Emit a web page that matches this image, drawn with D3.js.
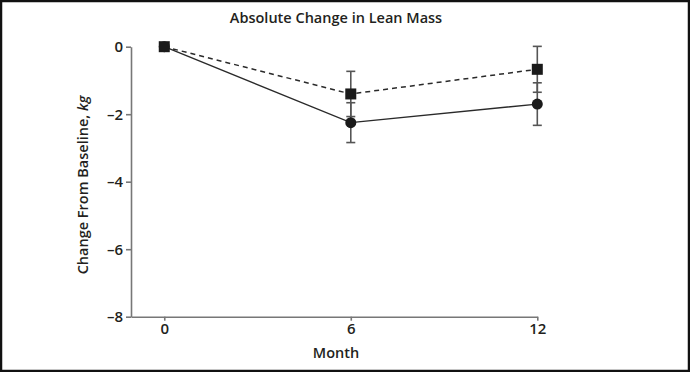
<!DOCTYPE html>
<html>
<head>
<meta charset="utf-8">
<script src="https://cdn.jsdelivr.net/npm/d3@7"></script>
<style>
  html, body { margin: 0; padding: 0; background: #fff; }
  svg { display: block; }
  text { font-family: "Open Sans", "Noto Sans", sans-serif; fill: #231f20; }
</style>
</head>
<body>
<svg id="chart" width="690" height="372"></svg>
<script>
// ---- data ----
const months = [0, 6, 12];
const squareMean = [0, -1.40, -0.67];
const squareErr  = [0, 0.67, 0.68];
const circleMean = [0, -2.25, -1.70];
const circleErr  = [0, 0.59, 0.63];
const yTicks = [0, -2, -4, -6, -8];
const xTicks = [0, 6, 12];
const titleText = "Absolute Change in Lean Mass";
const xLabel = "Month";
const yLabelMain = "Change From Baseline, ";
const yLabelUnit = "kg";

// ---- layout ----
const svg = d3.select("#chart");
const W = 690, H = 372;

svg.append("rect").attr("x", 1).attr("y", 1).attr("width", W - 2).attr("height", H - 2)
  .attr("fill", "#fff").attr("stroke", "#111").attr("stroke-width", 2.5);

const x = d3.scaleLinear().domain([-1.07, 12]).range([131, 537.3]);
const y = d3.scaleLinear().domain([-8, 0]).range([316.7, 46.7]);

const axisColor = "#777";

// y axis
const yAxis = svg.append("g").attr("transform", `translate(${x(-1.07)},0)`)
  .call(d3.axisLeft(y).tickValues(yTicks).tickSize(5).tickSizeOuter(0).tickPadding(3)
    .tickFormat(d => d === 0 ? "0" : "\u2013" + Math.abs(d)));
yAxis.attr("font-size", null);
yAxis.select(".domain").attr("stroke", axisColor).attr("stroke-width", 1.6);
yAxis.selectAll(".tick line").attr("stroke", axisColor).attr("stroke-width", 1.6);
yAxis.selectAll(".tick text").style("font-size", "15px").style("font-weight", 600)
  .attr("fill", "#231f20");

// x axis
const xAxis = svg.append("g").attr("transform", `translate(0,${y(-8)})`)
  .call(d3.axisBottom(x).tickValues(xTicks).tickSize(4).tickSizeOuter(0).tickPadding(3));
xAxis.attr("font-size", null);
xAxis.select(".domain").attr("stroke", axisColor).attr("stroke-width", 1.6);
xAxis.selectAll(".tick line").attr("stroke", axisColor).attr("stroke-width", 1.6);
xAxis.selectAll(".tick text").style("font-size", "15px").style("font-weight", 600)
  .attr("fill", "#231f20");

// title
svg.append("text").attr("x", 336).attr("y", 23).attr("text-anchor", "middle")
  .style("font-size", "14.5px").style("font-weight", 600).text(titleText);

// x label
svg.append("text").attr("x", 336).attr("y", 358).attr("text-anchor", "middle")
  .style("font-size", "14.5px").style("font-weight", 600).text(xLabel);

// y label
const yl = svg.append("text").attr("transform", "translate(88,185) rotate(-90)")
  .attr("text-anchor", "middle").style("font-size", "14.5px").style("font-weight", 600);
yl.append("tspan").text(yLabelMain);
yl.append("tspan").attr("font-style", "italic").text(yLabelUnit);

// ---- series ----
const sq = months.map((m, i) => ({ m, v: squareMean[i], e: squareErr[i] }));
const ci = months.map((m, i) => ({ m, v: circleMean[i], e: circleErr[i] }));
const line = d3.line().x(d => x(d.m)).y(d => y(d.v));
const lineColor = "#2a2a2a";

svg.append("path").datum(ci).attr("d", line).attr("fill", "none")
  .attr("stroke", lineColor).attr("stroke-width", 1.4);
svg.append("path").datum(sq).attr("d", line).attr("fill", "none")
  .attr("stroke", lineColor).attr("stroke-width", 1.5).attr("stroke-dasharray", "5,4");

function errorBars(data) {
  const g = svg.append("g").attr("stroke", "#555").attr("stroke-width", 1.6);
  const d2 = data.filter(d => d.e > 0);
  g.selectAll(".v").data(d2).join("line")
    .attr("x1", d => x(d.m)).attr("x2", d => x(d.m))
    .attr("y1", d => y(d.v + d.e)).attr("y2", d => y(d.v - d.e));
  g.selectAll(".t").data(d2).join("line")
    .attr("x1", d => x(d.m) - 4.5).attr("x2", d => x(d.m) + 4.5)
    .attr("y1", d => y(d.v + d.e)).attr("y2", d => y(d.v + d.e));
  g.selectAll(".b").data(d2).join("line")
    .attr("x1", d => x(d.m) - 4.5).attr("x2", d => x(d.m) + 4.5)
    .attr("y1", d => y(d.v - d.e)).attr("y2", d => y(d.v - d.e));
}
errorBars(ci);
errorBars(sq);

// markers
svg.selectAll(".circ").data(ci).join("circle")
  .attr("cx", d => x(d.m)).attr("cy", d => y(d.v)).attr("r", 5.5)
  .attr("fill", "#1a1a1a");
svg.selectAll(".sqr").data(sq).join("rect")
  .attr("x", d => x(d.m) - 5.5).attr("y", d => y(d.v) - 5.5)
  .attr("width", 11).attr("height", 11).attr("fill", "#1a1a1a");
</script>
</body>
</html>
